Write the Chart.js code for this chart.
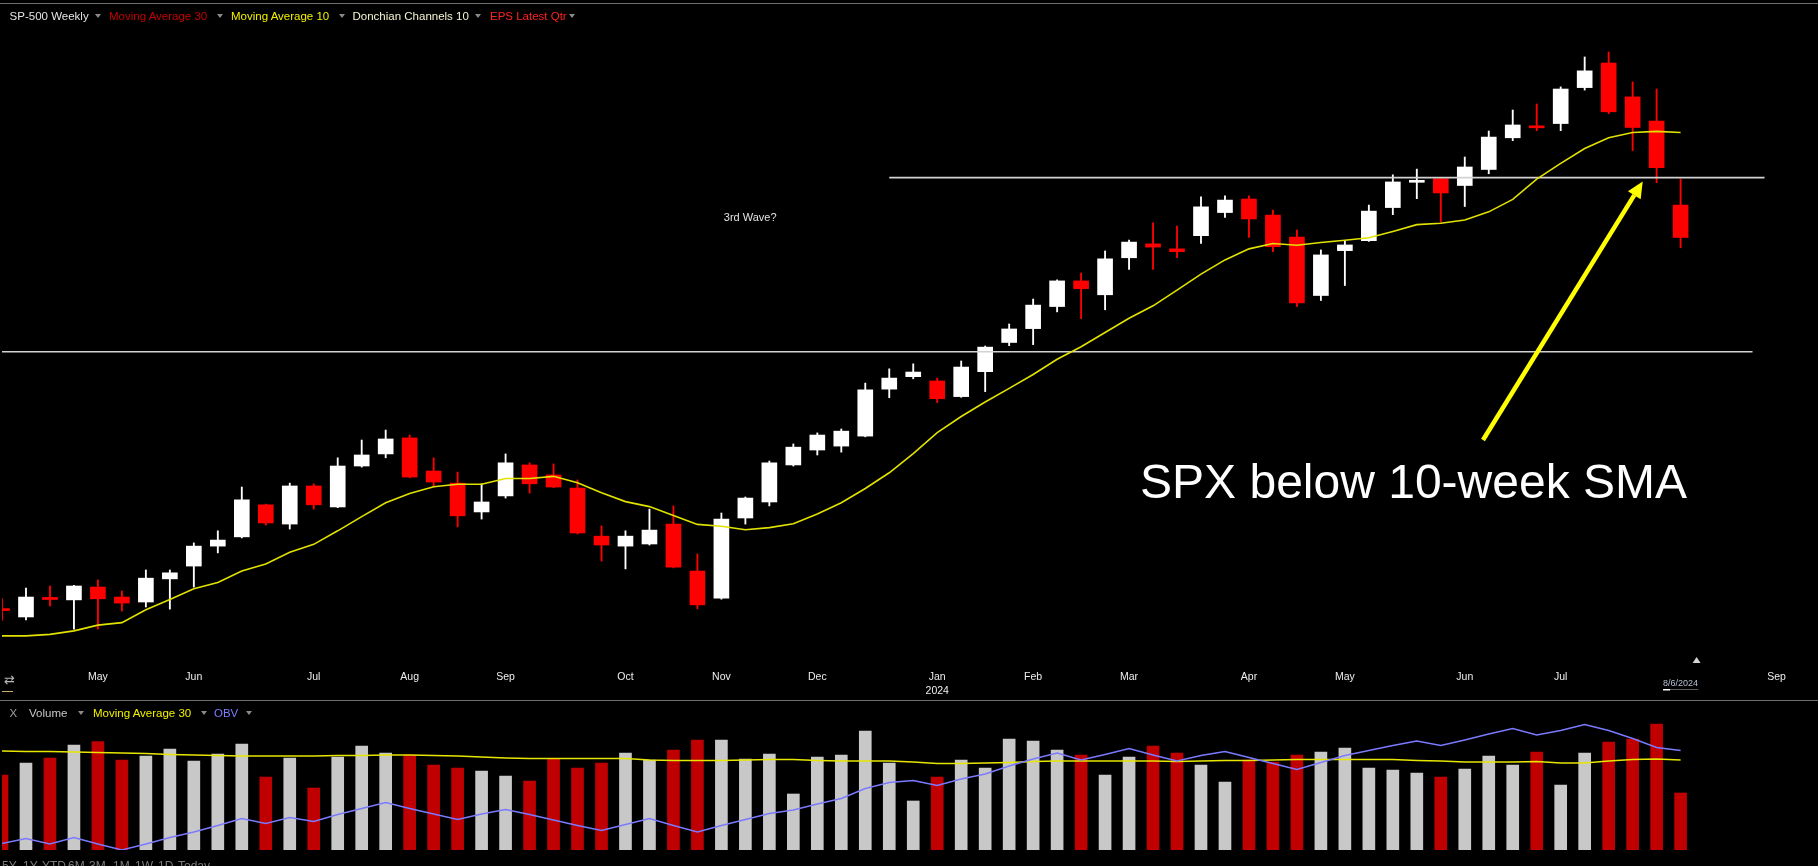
<!DOCTYPE html>
<html>
<head>
<meta charset="utf-8">
<title>SP-500 Weekly</title>
<script src="https://cdn.jsdelivr.net/npm/chart.js@4.4.1/dist/chart.umd.min.js"></script>
<style>
  html, body { margin: 0; padding: 0; background: #000; }
  #wrap { position: relative; width: 1818px; height: 866px; overflow: hidden; background: #000;
          font-family: 'Liberation Sans', Arial, sans-serif; }
  canvas { position: absolute; left: 0; }
  .t { position: absolute; white-space: nowrap; font-size: 11.5px; line-height: 13px; }
  .dd { position: absolute; width: 0; height: 0; border-left: 3px solid transparent;
        border-right: 3px solid transparent; border-top: 4px solid #8a8a8a; }
  .rule { position: absolute; left: 0; width: 1818px; height: 1px; background: #6e6e6e; }
  .rng { position: absolute; top: 860px; font-size: 12px; line-height: 13px; color: #7c7c7c; }
</style>
</head>
<body>
<div id="wrap">
  <canvas id="priceChart" width="1818" height="700" style="top:0;width:1818px;height:700px"></canvas>
  <canvas id="volChart" width="1818" height="166" style="top:700px;width:1818px;height:166px"></canvas>
  <div class="rule" style="top:3px"></div>
  <div class="rule" style="top:700px"></div>

  <span class="t" style="left:9.6px;top:9.5px;color:#e4e4e4">SP-500 Weekly</span>
  <span class="dd" style="left:94.6px;top:13.5px"></span>
  <span class="t" style="left:109px;top:9.5px;color:#c40000">Moving Average 30</span>
  <span class="dd" style="left:217px;top:13.5px"></span>
  <span class="t" style="left:231px;top:9.5px;color:#f0f000">Moving Average 10</span>
  <span class="dd" style="left:339px;top:13.5px"></span>
  <span class="t" style="left:352.5px;top:9.5px;color:#f4f4d2">Donchian Channels 10</span>
  <span class="dd" style="left:475px;top:13.5px"></span>
  <span class="t" style="left:490px;top:9.5px;color:#ff2020">EPS Latest Qtr</span>
  <span class="dd" style="left:569px;top:13.5px"></span>

  <span class="t" style="left:4px;top:673px;font-family:'DejaVu Sans';font-size:13px;color:#b8b8b8">&#8644;</span>
  <div style="position:absolute;left:2px;top:691px;width:11px;height:1px;background:#c8b070"></div>

  <span class="t" style="left:9.5px;top:706.6px;color:#a0a0a0">X</span>
  <span class="t" style="left:29px;top:706.6px;color:#c8c8c8">Volume</span>
  <span class="dd" style="left:78px;top:711px"></span>
  <span class="t" style="left:93px;top:706.6px;color:#f0f000">Moving Average 30</span>
  <span class="dd" style="left:201px;top:711px"></span>
  <span class="t" style="left:214px;top:706.6px;color:#7c7cff">OBV</span>
  <span class="dd" style="left:246px;top:711px"></span>

  <span class="rng" style="left:2px">5Y</span>
  <span class="rng" style="left:23px">1Y</span>
  <span class="rng" style="left:42px">YTD</span>
  <span class="rng" style="left:68px">6M</span>
  <span class="rng" style="left:89px">3M</span>
  <span class="rng" style="left:113px">1M</span>
  <span class="rng" style="left:135px">1W</span>
  <span class="rng" style="left:158px">1D</span>
  <span class="rng" style="left:178px">Today</span>
</div>

<script>
// weekly bars, week of 2023-04-03 .. week of 2024-08-05 (index = week number)
const opens  = [4106,4083,4138,4131,4167,4139,4125,4190,4226,4282,4308,4398,4344,4451,4392,4507,4541,4586,4493,4459,
                4378,4423,4510,4482,4445,4310,4282,4288,4344,4212,4136,4361,4406,4510,4552,4563,4591,4723,4758,4746,
                4702,4772,4854,4893,4955,5027,4988,5092,5131,5117,5154,5219,5257,5212,5150,4986,5112,5140,5233,5304,
                5314,5295,5340,5429,5459,5469,5570,5639,5544,5476,5149];
const highs  = [4134,4164,4170,4172,4187,4156,4215,4215,4291,4325,4448,4400,4459,4457,4530,4580,4608,4594,4530,4490,
                4457,4541,4516,4513,4468,4339,4325,4386,4395,4260,4375,4420,4521,4569,4600,4611,4740,4780,4794,4754,
                4802,4844,4906,4976,5030,5049,5111,5142,5190,5181,5263,5266,5266,5226,5170,5114,5140,5240,5325,5341,
                5316,5375,5448,5507,5524,5572,5656,5670,5586,5566,5313];
const lows   = [4073,4075,4114,4049,4049,4100,4111,4105,4167,4263,4305,4341,4330,4386,4390,4504,4530,4474,4448,4336,
                4358,4417,4431,4446,4316,4240,4218,4285,4221,4106,4133,4344,4395,4507,4538,4546,4589,4699,4752,4685,
                4700,4716,4845,4848,4940,4921,4946,5059,5059,5092,5132,5205,5149,5109,4955,4972,5014,5138,5213,5258,
                5192,5236,5328,5421,5449,5449,5563,5497,5393,5303,5120];
const closes = [4101,4139,4132,4170,4134,4122,4192,4207,4282,4299,4412,4347,4451,4398,4507,4538,4583,4476,4462,4367,
                4406,4516,4457,4448,4319,4285,4310,4327,4223,4117,4358,4417,4516,4560,4594,4605,4721,4754,4771,4696,
                4785,4841,4892,4959,5027,5005,5089,5136,5122,5109,5235,5254,5201,5123,4965,5100,5128,5223,5305,5306,
                5274,5347,5431,5465,5457,5566,5617,5502,5458,5345,5240];
// 10-week moving average as drawn
const ma10   = [4030,4030,4034,4044,4060,4067,4103,4132,4162,4180,4212,4232,4265,4287,4325,4365,4404,4430,4449,4456,
                4456,4472,4472,4478,4460,4432,4407,4393,4368,4343,4338,4328,4334,4345,4372,4404,4444,4488,4542,4601,
                4646,4687,4725,4764,4807,4842,4882,4922,4957,5001,5046,5086,5117,5132,5127,5135,5141,5148,5166,5185,
                5189,5198,5221,5256,5313,5357,5399,5429,5444,5447,5444];
// volume (billions of shares), its 30-week average and OBV
const volumes = [15.0,17.4,18.4,21.0,21.7,18.0,18.8,20.2,17.8,19.2,21.2,14.6,18.4,12.4,18.6,20.8,19.4,19.0,17.0,16.4,
                 15.8,14.8,13.8,18.2,16.4,17.4,19.4,18.0,20.0,22.0,22.0,18.2,19.2,11.2,18.6,19.0,23.8,17.4,9.8,14.6,
                 18.0,16.4,22.2,21.8,20.0,19.0,15.0,18.6,20.8,19.4,17.0,13.6,18.0,17.6,19.0,19.6,20.4,16.4,16.0,15.4,
                 14.6,16.2,18.8,17.0,19.6,13.0,19.4,21.6,22.2,25.2,11.4];
const volMa30 = [19.8,19.7,19.7,19.6,19.5,19.4,19.3,19.1,19.0,18.9,18.8,18.8,18.8,18.8,18.9,18.9,19.0,19.0,18.9,18.8,
                 18.6,18.4,18.3,18.3,18.3,18.3,18.3,18.0,17.9,17.9,17.9,18.0,18.1,18.1,17.9,17.8,17.8,17.8,17.6,17.3,
                 17.3,17.4,17.5,17.7,17.8,17.8,17.8,17.8,17.8,17.7,17.8,17.9,17.9,18.0,18.1,18.1,18.1,18.1,18.1,17.9,
                 17.8,17.6,17.6,17.6,17.7,17.4,17.4,17.8,18.1,18.2,18.0];
const obv     = [13,23,12,25,12,0,12,25,36,49,63,53,65,57,71,83,95,83,72,61,
                 72,81,71,60,49,39,51,63,49,36,49,61,73,80,92,103,123,135,139,129,
                 142,152,168,182,194,180,191,203,190,178,189,197,185,173,161,175,189,199,209,218,
                 209,220,232,243,230,239,251,239,223,205,199];

// x axis ticks (week index -> label)
const tickIdx    = [4, 8, 13, 17, 21, 26, 30, 34, 39, 43, 47, 52, 56, 61, 65, 70, 74];
const tickLabels = ['May','Jun','Jul','Aug','Sep','Oct','Nov','Dec','Jan','Feb','Mar','Apr','May','Jun','Jul','8/6/2024','Sep'];
const yearIdx = 39, yearLabel = '2024';
const lastIdx = 70;

// drawn levels: [price, fromWeek, toWeek]
const upperLevel = [5317, 37, 73.5];
const lowerLevel = [4828, 0, 73];

// annotations in chart space: [week, price]
const arrowFrom = [61.76, 4580];
const arrowTo   = [68.42, 5306];
const waveNote  = ['3rd Wave?', 30.1, 5204];
const mainNote  = ['SPX below 10-week SMA', 47.46, 4417];

const xMax = 75.73;
const RED = '#ff0000', WHITE = '#ffffff';
const down = closes.map((c, i) => i === 0 ? c < opens[0] : c < closes[i - 1]);
const candleColors = down.map(d => d ? RED : WHITE);
const volColors = down.map(d => d ? '#c00000' : '#c8c8c8');

const overlay = {
  id: 'overlay',
  afterDraw(chart) {
    const { ctx } = chart;
    const x = chart.scales.x, y = chart.scales.y;
    ctx.save();

    // arrow
    const tx = x.getPixelForValue(arrowFrom[0]), ty = y.getPixelForValue(arrowFrom[1]);
    const hx = x.getPixelForValue(arrowTo[0]), hy = y.getPixelForValue(arrowTo[1]);
    const ang = Math.atan2(hy - ty, hx - tx);
    const headLen = 16, headW = 7.5;
    const bx = hx - headLen * Math.cos(ang), by = hy - headLen * Math.sin(ang);
    ctx.strokeStyle = '#ffff00';
    ctx.fillStyle = '#ffff00';
    ctx.lineWidth = 4.5;
    ctx.beginPath(); ctx.moveTo(tx, ty); ctx.lineTo(bx, by); ctx.stroke();
    ctx.beginPath();
    ctx.moveTo(hx, hy);
    ctx.lineTo(bx + headW * Math.sin(ang), by - headW * Math.cos(ang));
    ctx.lineTo(bx - headW * Math.sin(ang), by + headW * Math.cos(ang));
    ctx.closePath(); ctx.fill();

    // notes
    ctx.fillStyle = '#e2e2e2';
    ctx.font = '11px "Liberation Sans", Arial';
    ctx.textAlign = 'left'; ctx.textBaseline = 'middle';
    ctx.fillText(waveNote[0], x.getPixelForValue(waveNote[1]), y.getPixelForValue(waveNote[2]));
    ctx.fillStyle = '#ffffff';
    ctx.font = '48px "Liberation Sans", Arial';
    ctx.textBaseline = 'alphabetic';
    ctx.fillText(mainNote[0], x.getPixelForValue(mainNote[1]), y.getPixelForValue(mainNote[2]));

    // time axis labels
    ctx.textAlign = 'center';
    tickIdx.forEach((ix, k) => {
      const px = x.getPixelForValue(ix);
      if (ix === lastIdx) {
        ctx.font = '9px "Liberation Sans", Arial';
        ctx.fillStyle = '#b4c0d2';
        ctx.fillText(tickLabels[k], px, 686);
        const w = ctx.measureText(tickLabels[k]).width;
        ctx.fillStyle = '#5c5c5c';
        ctx.fillRect(px - w / 2, 689, w, 1);
        ctx.fillStyle = '#ffffff';
        ctx.fillRect(px - w / 2, 689, 7, 1.5);
      } else {
        ctx.font = '10.5px "Liberation Sans", Arial';
        ctx.fillStyle = '#eeeeee';
        ctx.fillText(tickLabels[k], px, 680);
      }
    });
    ctx.font = '10.5px "Liberation Sans", Arial';
    ctx.fillStyle = '#eeeeee';
    ctx.fillText(yearLabel, x.getPixelForValue(yearIdx), 694);

    // current bar marker
    const mx = x.getPixelForValue(lastIdx) + 16;
    ctx.fillStyle = '#d4d4d4';
    ctx.beginPath(); ctx.moveTo(mx, 657); ctx.lineTo(mx + 4, 663); ctx.lineTo(mx - 4, 663); ctx.closePath(); ctx.fill();
    ctx.restore();
  }
};

const pts = arr => arr.map((v, i) => ({ x: i, y: v }));
const levelPts = lv => [{ x: lv[1], y: lv[0] }, { x: lv[2], y: lv[0] }];

new Chart(document.getElementById('priceChart'), {
  type: 'bar',
  data: {
    datasets: [
      { type: 'line', data: pts(ma10), borderColor: '#e2e200', borderWidth: 1.6, pointRadius: 0 },
      { type: 'line', data: levelPts(upperLevel), borderColor: '#d2d2d2', borderWidth: 1.7, pointRadius: 0 },
      { type: 'line', data: levelPts(lowerLevel), borderColor: '#d2d2d2', borderWidth: 1.7, pointRadius: 0 },
      { data: opens.map((o, i) => ({ x: i, y: [o, closes[i]] })), backgroundColor: candleColors,
        barThickness: 15, minBarLength: 2, grouped: false },
      { data: lows.map((l, i) => ({ x: i, y: [l, highs[i]] })), backgroundColor: candleColors,
        barThickness: 1.2, grouped: false }
    ]
  },
  options: {
    responsive: false, animation: false,
    layout: { padding: { left: 2, right: 0, top: 28, bottom: 38 } },
    plugins: { legend: { display: false }, tooltip: { enabled: false } },
    scales: {
      x: { type: 'linear', min: 0, max: xMax, offset: false, display: false },
      y: { min: 3956.5, max: 5737.4, display: false }
    }
  },
  plugins: [overlay]
});

new Chart(document.getElementById('volChart'), {
  type: 'bar',
  data: {
    datasets: [
      { type: 'line', data: pts(obv), yAxisID: 'yObv', borderColor: '#7a7aff', borderWidth: 1.4, pointRadius: 0 },
      { type: 'line', data: pts(volMa30), borderColor: '#e6e600', borderWidth: 1.6, pointRadius: 0 },
      { data: pts(volumes), backgroundColor: volColors, barThickness: 12, grouped: false }
    ]
  },
  options: {
    responsive: false, animation: false,
    layout: { padding: { left: 2, right: 0, top: 16, bottom: 16 } },
    plugins: { legend: { display: false }, tooltip: { enabled: false } },
    scales: {
      x: { type: 'linear', min: 0, max: xMax, offset: false, display: false },
      y: { min: 0, max: 26.8, display: false },
      yObv: { min: 0, max: 268, display: false }
    }
  }
});
</script>
</body>
</html>
